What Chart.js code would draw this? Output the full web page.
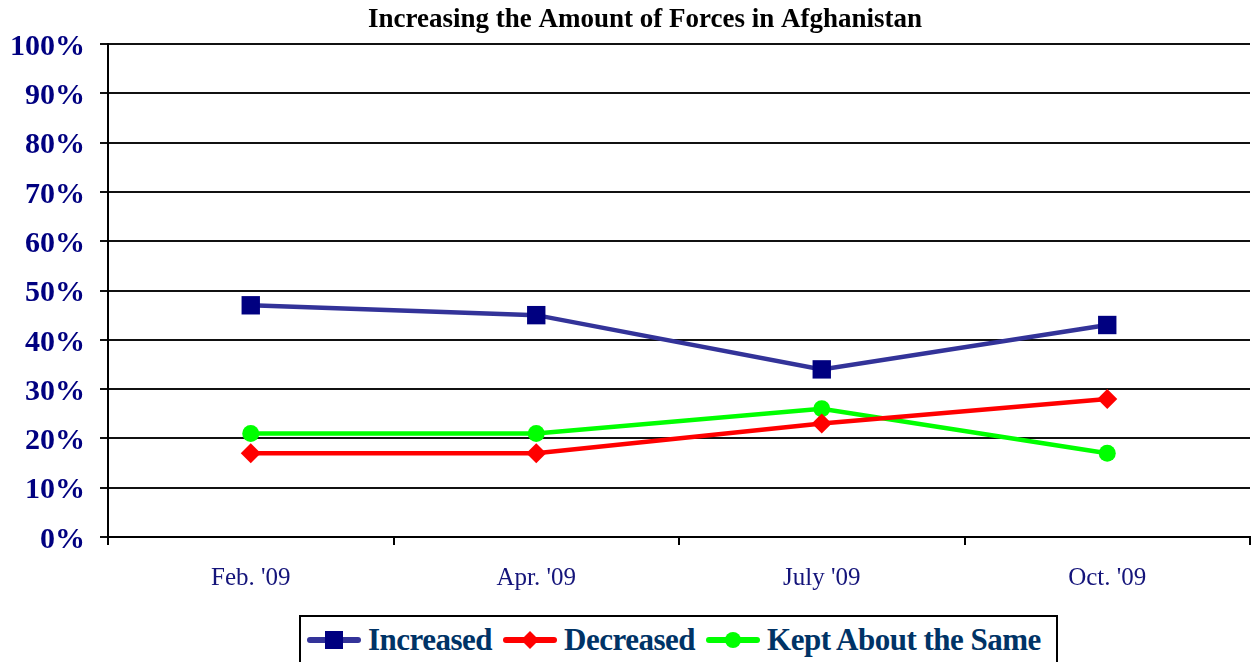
<!DOCTYPE html>
<html>
<head>
<meta charset="utf-8">
<script src="https://cdn.jsdelivr.net/npm/chart.js@4.4.1/dist/chart.umd.min.js"></script>
<style>
  html,body{ margin:0; padding:0; background:#fff; overflow:hidden; }
  #wrap{ position:relative; width:1256px; height:662px; }
  #legend{
    position:absolute; left:299px; top:615px; width:759px; height:60px;
    border:2px solid #000; box-sizing:border-box; background:#fff;
    display:flex; align-items:flex-start; padding-left:6px; white-space:nowrap;
    font-family:'Liberation Serif','Times New Roman',serif; font-weight:bold;
    font-size:31px; letter-spacing:-0.5px; color:#003366; line-height:46px;
  }
  #legend .item{ display:flex; align-items:center; height:46px; margin-right:11px; flex-shrink:0; }
  #legend svg{ margin-right:7px; flex-shrink:0; }
</style>
</head>
<body>
<div id="wrap">
  <canvas id="c" width="1256" height="662"></canvas>
  <div id="legend"></div>
</div>
<script>
// Chart data
const TITLE = "Increasing the Amount of Forces in Afghanistan";
const categories = ["Feb. '09", "Apr. '09", "July '09", "Oct. '09"];
const increased = [47, 45, 34, 43];
const decreased = [17, 17, 23, 28];
const keptSame  = [21, 21, 26, 17];
const yTicks = [0,10,20,30,40,50,60,70,80,90,100];

const SERIF = "'Liberation Serif','Times New Roman',serif";

const series = [
  {label:"Increased", data:increased, line:"#333399", mark:"#000080", style:"rect", r:13},
  {label:"Decreased", data:decreased, line:"#FF0000", mark:"#FF0000", style:"rectRot", r:10},
  {label:"Kept About the Same", data:keptSame, line:"#00FF00", mark:"#00FF00", style:"circle", r:8.5},
];

// title drawn over the plot (source chart centres it a bit right of the canvas middle)
const titlePlugin = {
  id:"titleText",
  afterDraw(chart){
    const ctx = chart.ctx;
    ctx.save();
    ctx.font = "bold 27px " + SERIF;
    ctx.fillStyle = "#000";
    ctx.textAlign = "center";
    ctx.textBaseline = "alphabetic";
    ctx.fillText(TITLE, 645, 27);
    ctx.restore();
  }
};

new Chart(document.getElementById("c"), {
  type:"line",
  data:{
    labels:categories,
    datasets:series.map(s=>({
      label:s.label, data:s.data,
      borderColor:s.line, borderWidth:4.5,
      backgroundColor:s.mark, pointBackgroundColor:s.mark, pointBorderColor:s.mark,
      pointBorderWidth:0, pointStyle:s.style, pointRadius:s.r, pointHoverRadius:s.r,
      tension:0, fill:false
    }))
  },
  options:{
    responsive:false,
    animation:false,
    layout:{ autoPadding:false, padding:{ top:44, right:6, left:0, bottom:0 } },
    plugins:{ legend:{ display:false }, title:{ display:false }, tooltip:{ enabled:false } },
    scales:{
      x:{
        offset:true,
        grid:{ drawOnChartArea:false, drawTicks:true, tickLength:8, color:"#000", lineWidth:2, offset:true },
        border:{ display:true, color:"#000", width:2 },
        ticks:{ color:"#14147a", font:{ family:SERIF, size:25 }, padding:18, maxRotation:0 },
        afterFit(scale){ scale.height = 125; scale.paddingRight = 0; scale.paddingLeft = 0; }
      },
      y:{
        min:0, max:100,
        afterBuildTicks(scale){ scale.ticks = yTicks.map(v=>({value:v})); },
        grid:{ color:"#111", lineWidth:2, tickLength:8, drawTicks:true },
        border:{ display:true, color:"#000", width:2 },
        ticks:{ color:"#000080", font:{ family:SERIF, size:30, weight:"bold" }, padding:15,
                labelOffset:3, callback:v=>v+"%" },
        afterFit(scale){ scale.width = 108; }
      }
    }
  },
  plugins:[titlePlugin]
});

// legend box like the original (line + marker, bold text)
function symbol(s){
  const w=54, h=24, cy=h/2, cx=w/2;
  let m;
  if (s.style==="rect") m = `<rect x="${cx-9}" y="${cy-9}" width="18" height="18" fill="${s.mark}"/>`;
  else if (s.style==="rectRot") m = `<polygon points="${cx-9},${cy} ${cx},${cy-9} ${cx+9},${cy} ${cx},${cy+9}" fill="${s.mark}"/>`;
  else m = `<circle cx="${cx}" cy="${cy}" r="8" fill="${s.mark}"/>`;
  return `<svg width="${w}" height="${h}"><line x1="3" y1="${cy}" x2="${w-3}" y2="${cy}" stroke="${s.line}" stroke-width="6" stroke-linecap="round"/>${m}</svg>`;
}
const leg = document.getElementById("legend");
series.forEach(s=>{
  const el = document.createElement("div");
  el.className = "item";
  el.innerHTML = symbol(s) + `<span>${s.label}</span>`;
  leg.appendChild(el);
});
</script>
</body>
</html>
